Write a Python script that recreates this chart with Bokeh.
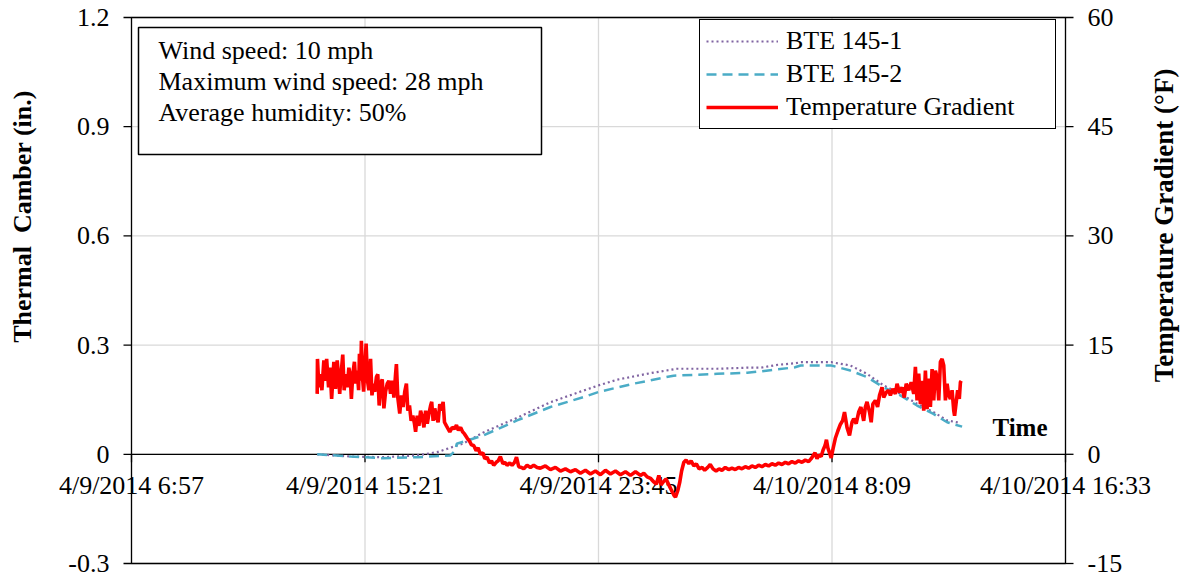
import numpy as np
import pandas as pd
from bokeh.plotting import figure
from bokeh.models import Range1d, Legend, LegendItem, Label, BoxAnnotation
from bokeh.core.properties import value
from bokeh.embed import file_html
from bokeh.resources import INLINE

# ---------------- data ----------------
# time in hours after 4/9/2014 0:00
x_tick_labels = ["4/9/2014 6:57", "4/9/2014 15:21", "4/9/2014 23:45", "4/10/2014 8:09", "4/10/2014 16:33"]
camber_ticks = [-0.3, 0.0, 0.3, 0.6, 0.9, 1.2]
camber_tick_labels = ["-0.3", "0", "0.3", "0.6", "0.9", "1.2"]
temp_ticks = [-15, 0, 15, 30, 45, 60]
temp_tick_labels = ["-15", "0", "15", "30", "45", "60"]

bte1_hours = [13.63, 14.83, 16.01, 17.23, 17.95, 18.89, 19.61, 20.82, 22.02, 23.21, 23.74, 24.42, 25.62,
              26.58, 28.02, 29.10, 29.60, 30.20, 30.82, 31.02, 32.13, 32.81, 33.41, 34.01, 34.61, 35.21,
              35.80, 36.29, 36.78]
bte1_camber = [0.000, -0.006, -0.008, -0.003, 0.006, 0.030, 0.060, 0.100, 0.143, 0.175, 0.189, 0.205, 0.223,
               0.235, 0.235, 0.238, 0.238, 0.246, 0.250, 0.253, 0.253, 0.244, 0.221, 0.189, 0.166, 0.139,
               0.116, 0.093, 0.086]

bte2_hours = [13.63, 14.83, 16.01, 17.23, 18.42, 18.60, 18.65, 19.61, 20.82, 22.02, 23.21, 23.74, 25.01,
              26.45, 28.02, 29.10, 29.60, 30.82, 31.02, 32.13, 32.81, 33.41, 34.01, 34.61, 35.21, 35.80,
              36.29, 36.83]
bte2_camber = [0.000, -0.006, -0.011, -0.008, -0.003, 0.010, 0.029, 0.052, 0.093, 0.130, 0.157, 0.171, 0.194,
               0.216, 0.221, 0.224, 0.228, 0.239, 0.244, 0.244, 0.230, 0.212, 0.184, 0.162, 0.134, 0.111,
               0.088, 0.076]

temp_hours = [
    13.63, 13.64, 13.69, 13.75, 13.80, 13.87, 13.93, 13.97, 14.04, 14.09, 14.15, 14.23, 14.29, 14.35, 14.41,
    14.44, 14.50, 14.55, 14.60, 14.66, 14.71, 14.77, 14.82, 14.86, 14.91, 14.97, 15.02, 15.07, 15.12, 15.15,
    15.19, 15.22, 15.26, 15.30, 15.34, 15.39, 15.44, 15.49, 15.55, 15.60, 15.66, 15.70, 15.76, 15.81, 15.86,
    15.91, 15.97, 16.03, 16.09, 16.15, 16.21, 16.27, 16.33, 16.39, 16.45, 16.48, 16.53, 16.60, 16.66, 16.72,
    16.78, 16.84, 16.89, 16.95, 17.01, 17.07, 17.13, 17.17, 17.23, 17.29, 17.35, 17.41, 17.47, 17.53, 17.59,
    17.65, 17.71, 17.75, 17.80, 17.86, 17.92, 17.98, 18.04, 18.10, 18.16, 18.21, 18.28, 18.34, 18.40, 18.49,
    18.57, 18.64, 18.71, 18.79, 18.86, 18.93, 19.03, 19.11, 19.18, 19.26, 19.35, 19.42, 19.50, 19.59, 19.66,
    19.74, 19.83, 19.90, 19.98, 20.07, 20.14, 20.22, 20.31, 20.38, 20.46, 20.56, 20.64, 20.73, 20.80, 20.88,
    20.98, 21.06, 21.18, 21.30, 21.42, 21.54,
    21.66, 21.84, 22.02, 22.20, 22.38, 22.56, 22.74, 22.92, 23.10, 23.28, 23.46, 23.64, 23.82, 24.00, 24.18,
    24.36, 24.54, 24.72, 24.90, 25.08, 25.26, 25.38, 25.50, 25.62, 25.74, 25.83, 25.92, 26.00, 26.10, 26.18,
    26.28, 26.37, 26.46, 26.52, 26.60, 26.67, 26.74, 26.82, 26.90, 27.00, 27.08, 27.18, 27.27, 27.37, 27.48,
    27.57, 27.68, 27.77, 27.87, 27.98, 28.09, 28.19, 28.31, 28.43, 28.55, 28.67, 28.79, 28.91, 29.03, 29.15,
    29.27, 29.39, 29.51, 29.63, 29.75, 29.87, 29.99, 30.11, 30.23, 30.35, 30.47, 30.59, 30.71, 30.83, 30.95,
    31.07, 31.19, 31.31, 31.40, 31.47, 31.54, 31.61, 31.68, 31.76, 31.83, 31.90, 31.95, 32.00, 32.07, 32.12,
    32.19, 32.27, 32.36, 32.45,
    32.53, 32.60, 32.69, 32.78, 32.87, 32.93, 33.02, 33.11, 33.19, 33.29, 33.35, 33.41, 33.50, 33.56, 33.62,
    33.71, 33.79, 33.86, 33.95, 34.01, 34.10, 34.19, 34.25, 34.34, 34.43, 34.49, 34.58, 34.67, 34.75, 34.82,
    34.91, 35.00, 35.09, 35.15, 35.21, 35.27, 35.33, 35.39, 35.45, 35.51, 35.57, 35.63, 35.69, 35.75, 35.81,
    35.87, 35.93, 35.99, 36.05, 36.11, 36.17, 36.23, 36.29, 36.35, 36.41, 36.47, 36.53, 36.56, 36.61, 36.67,
    36.73, 36.77, 36.80]
temp_gradient = [
    8.3, 13.1, 9.2, 11.0, 8.8, 12.9, 10.1, 13.1, 9.2, 11.9, 7.6, 12.7, 9.0, 12.9, 10.1,
    8.3, 11.5, 13.7, 8.8, 11.0, 9.2, 11.9, 10.6, 7.6, 11.0, 12.7, 9.7, 11.5, 8.8, 13.8,
    10.1, 15.6, 10.6, 8.6, 11.5, 15.2, 10.1, 8.8, 13.1, 8.1, 9.7, 8.6, 10.6, 11.0, 6.7,
    9.7, 10.3, 6.3, 8.6, 9.7, 10.1, 8.3, 10.1, 7.8, 11.0, 12.4, 7.8, 5.6, 8.1, 6.5,
    8.6, 9.7, 6.0, 6.7, 4.6, 5.3, 4.2, 3.1, 5.3, 3.9, 6.0, 5.1, 3.7, 6.0, 4.2,
    5.6, 6.7, 7.2, 4.6, 6.3, 5.1, 4.4, 6.9, 6.0, 7.2, 4.4, 3.9, 3.5, 3.1, 3.7,
    3.5, 4.0, 3.3, 3.7, 3.1, 2.8, 2.2, 1.8, 1.3, 1.2, 0.5, 0.9, 0.0, 0.2, -0.6,
    -0.4, -1.2, -0.9, -1.5, -1.1, -0.9, -0.3, -1.3, -1.1, -1.5, -1.2, -1.5, -1.1, -0.4, -1.7,
    -1.8, -2.0, -1.5, -1.8, -1.5, -1.8,
    -1.9, -1.6, -2.1, -1.8, -2.3, -2.0, -2.4, -2.1, -2.6, -2.2, -2.7, -2.3, -2.8, -2.2, -2.7,
    -2.3, -2.8, -2.4, -2.9, -2.4, -2.9, -2.6, -3.1, -3.3, -3.8, -4.1, -2.9, -4.2, -3.7, -3.4,
    -4.2, -4.9, -5.6, -5.9, -5.0, -3.9, -2.3, -1.1, -0.8, -1.3, -0.9, -1.6, -1.3, -2.0, -1.8,
    -2.2, -1.8, -1.4, -2.0, -2.3, -2.0, -2.2, -1.8, -2.1, -1.9, -2.1, -1.8, -2.0, -1.7, -1.9,
    -1.6, -1.8, -1.5, -1.7, -1.4, -1.6, -1.3, -1.5, -1.2, -1.4, -1.1, -1.3, -1.0, -1.2, -0.9,
    -1.1, -0.8, -1.0, -0.6, -0.2, 0.2, -0.6, -0.1, -0.3, 0.6, 1.2, 2.0, 0.9, 0.1, -0.5,
    0.8, 2.2, 3.2, 4.1,
    4.6, 5.8, 3.7, 2.6, 4.4, 4.9, 4.2, 5.8, 6.5, 4.6, 6.5, 7.2, 5.8, 4.4, 6.9,
    7.4, 6.5, 8.1, 9.2, 7.8, 8.5, 8.8, 8.1, 9.0, 8.3, 9.7, 8.5, 9.2, 7.8, 9.7,
    8.8, 9.9, 8.3, 12.0, 7.4, 11.1, 6.9, 10.1, 6.0, 11.5, 6.2, 10.4, 6.5, 11.7, 7.4,
    11.5, 10.6, 7.4, 12.7, 13.1, 12.2, 7.4, 9.7, 8.1, 7.6, 8.8, 6.0, 5.3, 6.9, 8.8,
    7.6, 9.9, 10.1]

info_lines = ["Wind speed: 10 mph", "Maximum wind speed: 28 mph", "Average humidity: 50%"]
left_title = "Thermal\u00a0 Camber (in.)"
right_title = "Temperature Gradient (°F)"
x_title = "Time"

# ---------------- layout (pixels) ----------------
W, H = 1184, 577
PL, PR, PT, PB = 131, 1065, 17, 563          # plot-area edges
FONT = "Liberation Serif"
GRID = "#D9D9D9"

BASE = pd.Timestamp("2014-04-09 00:00")
EPOCH = pd.Timestamp("1970-01-01")


def to_ms(hours):
    ts = BASE + pd.to_timedelta(np.asarray(hours, dtype=float), unit="h")
    return ((ts - EPOCH) / pd.Timedelta(milliseconds=1)).to_numpy(dtype=float)


tick_ts = pd.to_datetime(x_tick_labels, format="%m/%d/%Y %H:%M")
x_tick_ms = [float(v) for v in ((tick_ts - EPOCH) / pd.Timedelta(milliseconds=1)).to_numpy()]
t0, t1 = x_tick_ms[0], x_tick_ms[-1]
c0, c1 = camber_ticks[0], camber_ticks[-1]
f0, f1 = temp_ticks[0], temp_ticks[-1]

# extend ranges so that the axis limits land on the plot-area edges
xs = (t1 - t0) / (PR - PL)
cs = (c1 - c0) / (PB - PT)
fs = (f1 - f0) / (PB - PT)


def px_x(px):
    return t0 + (px - PL) * xs


def px_y(py):
    return c1 - (py - PT) * cs


p = figure(width=W, height=H, output_backend="svg", toolbar_location=None,
           x_range=Range1d(t0 - PL * xs, t1 + (W - PR) * xs),
           y_range=Range1d(c0 - (H - PB) * cs, c1 + PT * cs),
           x_axis_location=None, y_axis_location=None,
           min_border=0)
p.extra_y_ranges = {"temp": Range1d(f0 - (H - PB) * fs, f1 + PT * fs)}
p.outline_line_color = None
p.background_fill_color = "white"
p.border_fill_color = "white"
for g in p.grid:
    g.visible = False

n_c = len(camber_ticks)
n_x = len(x_tick_ms)

# gridlines
p.segment(x0=[t0] * n_c, y0=camber_ticks, x1=[t1] * n_c, y1=camber_ticks, line_color=GRID, line_width=1.3)
p.segment(x0=x_tick_ms, y0=[c0] * n_x, x1=x_tick_ms, y1=[c1] * n_x, line_color=GRID, line_width=1.3)

# time axis crossing at zero
p.segment(x0=[t0], y0=[0], x1=[t1], y1=[0], line_color="black", line_width=1.3)
p.ray(x=x_tick_ms, y=[0] * n_x, length=8, length_units="screen", angle=-np.pi / 2,
      line_color="black", line_width=1.3)
p.text(x=x_tick_ms, y=[0] * n_x, text=x_tick_labels, y_offset=31, text_align="center",
       text_baseline="middle", text_font=value(FONT), text_font_size="26px", text_color="black")

# series
r1 = p.line(to_ms(bte1_hours), bte1_camber, line_color="#8064A2", line_width=2.2, line_dash="2 3")
r2 = p.line(to_ms(bte2_hours), bte2_camber, line_color="#4BACC6", line_width=2.5, line_dash="10 6")
r3 = p.line(to_ms(temp_hours), temp_gradient, y_range_name="temp", line_color="#FF0000", line_width=3.6)

# value axes
p.ray(x=[t0] * n_c, y=camber_ticks, length=8, length_units="screen", angle=np.pi,
      line_color="black", line_width=1.3)
p.text(x=[t0] * n_c, y=camber_ticks, text=camber_tick_labels, x_offset=-22, text_align="right",
       text_baseline="middle", text_font=value(FONT), text_font_size="26px", text_color="black")
p.ray(x=[t1] * len(temp_ticks), y=temp_ticks, y_range_name="temp", length=8, length_units="screen",
      angle=0, line_color="black", line_width=1.3)
p.text(x=[t1] * len(temp_ticks), y=temp_ticks, y_range_name="temp", text=temp_tick_labels, x_offset=22,
       text_align="left", text_baseline="middle", text_font=value(FONT), text_font_size="26px",
       text_color="black")

# plot-area frame
p.add_layout(BoxAnnotation(left=t0, right=t1, bottom=c0, top=c1, fill_alpha=0,
                           line_color="black", line_alpha=1.0, line_width=1.3, level="overlay"))

# axis titles
p.text(x=[px_x(22)], y=[px_y(216)], text=[left_title], angle=np.pi / 2, text_align="center",
       text_baseline="middle", text_font=value(FONT), text_font_size="26px", text_font_style="bold",
       text_color="black")
p.text(x=[px_x(1163)], y=[px_y(225)], text=[right_title], angle=np.pi / 2, text_align="center",
       text_baseline="middle", text_font=value(FONT), text_font_size="27px", text_font_style="bold",
       text_color="black")
p.text(x=[px_x(1047)], y=[px_y(427)], text=[x_title], text_align="right", text_baseline="middle",
       text_font=value(FONT), text_font_size="25px", text_font_style="bold", text_color="black")

# legend
legend = Legend(items=[LegendItem(label="BTE 145-1", renderers=[r1]),
                       LegendItem(label="BTE 145-2", renderers=[r2]),
                       LegendItem(label="Temperature Gradient", renderers=[r3])],
                location=(699, H - 129), orientation="vertical",
                label_text_font=FONT, label_text_font_size="26px", label_text_color="black",
                border_line_color="black", border_line_alpha=1.0, border_line_width=1.5,
                background_fill_color="white", background_fill_alpha=1.0, padding=6, spacing=3, margin=0,
                glyph_width=72, glyph_height=20, label_standoff=8, label_width=263, label_height=20)
p.add_layout(legend)

# info box
p.add_layout(BoxAnnotation(left=px_x(138), right=px_x(541), top=px_y(27), bottom=px_y(154),
                           fill_color="white", fill_alpha=1.0, line_color="black", line_alpha=1.0,
                           line_width=1.5))
for txt, py in zip(info_lines, [50, 81, 112]):
    p.add_layout(Label(x=px_x(158), y=px_y(py), text=txt, text_font=FONT, text_font_size="26px",
                       text_color="black", text_align="left", text_baseline="middle"))

open("out.html", "w").write(file_html(p, INLINE))
